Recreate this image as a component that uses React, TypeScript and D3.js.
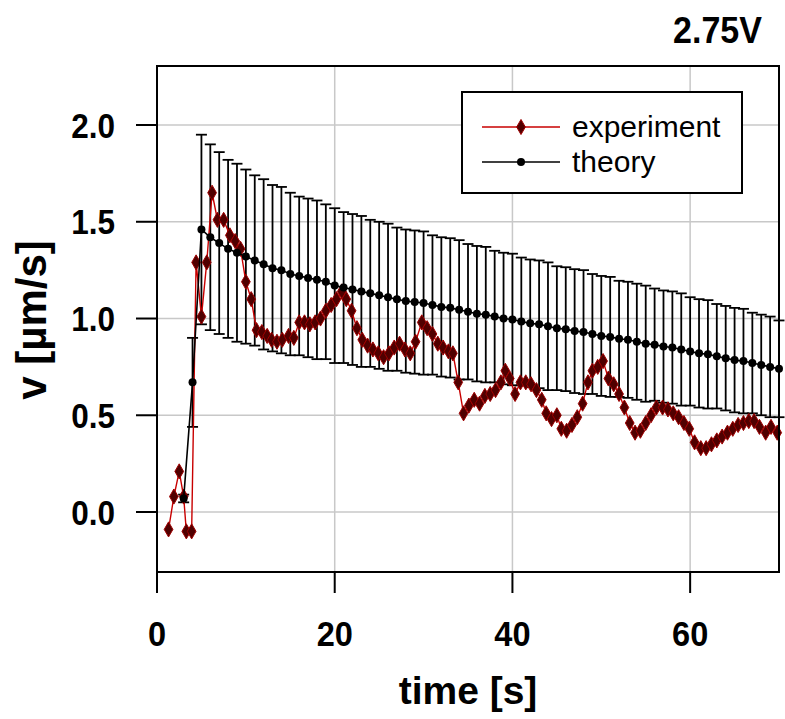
import React from 'react';
import * as d3 from 'd3';

// ---------- data ----------
const expT = [1.3, 1.9, 2.5, 3.0, 3.3, 3.9, 4.4, 5.0, 5.6, 6.2, 6.8, 7.5, 8.2, 8.8, 9.4, 10.0, 10.6, 11.2, 11.8, 12.4, 12.9, 13.5, 14.1, 14.8, 15.4, 16.0, 16.6, 17.2, 17.8, 18.4, 19.0, 19.6, 20.2, 20.8, 21.3, 21.9, 22.5, 23.1, 23.7, 24.3, 24.9, 25.5, 26.1, 26.7, 27.3, 27.9, 28.5, 29.1, 29.8, 30.4, 31.0, 31.6, 32.2, 32.8, 33.3, 33.9, 34.5, 35.1, 35.7, 36.3, 36.9, 37.5, 38.1, 38.7, 39.2, 39.7, 40.3, 40.9, 41.5, 42.1, 42.7, 43.3, 43.8, 44.4, 45.0, 45.5, 46.1, 46.7, 47.3, 47.9, 48.5, 49.0, 49.6, 50.2, 50.8, 51.4, 52.0, 52.6, 53.2, 53.8, 54.4, 55.0, 55.6, 56.2, 56.9, 57.5, 58.1, 58.7, 59.3, 59.9, 60.5, 61.2, 61.8, 62.4, 63.0, 63.6, 64.2, 64.8, 65.4, 66.0, 66.6, 67.2, 67.8, 68.5, 69.1, 69.8];
const expV = [-0.09, 0.08, 0.21, 0.08, -0.10, -0.10, 1.29, 1.01, 1.29, 1.65, 1.51, 1.51, 1.43, 1.40, 1.36, 1.19, 1.10, 0.94, 0.93, 0.91, 0.89, 0.88, 0.89, 0.91, 0.90, 0.98, 0.98, 0.97, 0.98, 1.00, 1.04, 1.07, 1.10, 1.14, 1.10, 1.04, 0.95, 0.89, 0.86, 0.84, 0.82, 0.80, 0.82, 0.85, 0.87, 0.84, 0.82, 0.88, 0.98, 0.95, 0.92, 0.87, 0.85, 0.83, 0.82, 0.67, 0.51, 0.55, 0.58, 0.56, 0.60, 0.61, 0.63, 0.67, 0.73, 0.69, 0.61, 0.67, 0.67, 0.66, 0.63, 0.58, 0.51, 0.48, 0.50, 0.43, 0.42, 0.45, 0.49, 0.56, 0.67, 0.73, 0.75, 0.78, 0.69, 0.66, 0.61, 0.54, 0.46, 0.41, 0.42, 0.46, 0.50, 0.54, 0.54, 0.53, 0.51, 0.49, 0.46, 0.43, 0.36, 0.33, 0.33, 0.35, 0.37, 0.39, 0.41, 0.43, 0.45, 0.46, 0.47, 0.47, 0.44, 0.41, 0.44, 0.41];

const theoryT = [3, 4, 5, 6, 7, 8, 9, 10, 11, 12, 13, 14, 15, 16, 17, 18, 19, 20, 21, 22, 23, 24, 25, 26, 27, 28, 29, 30, 31, 32, 33, 34, 35, 36, 37, 38, 39, 40, 41, 42, 43, 44, 45, 46, 47, 48, 49, 50, 51, 52, 53, 54, 55, 56, 57, 58, 59, 60, 61, 62, 63, 64, 65, 66, 67, 68, 69, 70];
const theoryV = [0.07, 0.67, 1.46, 1.42, 1.39, 1.36, 1.34, 1.32, 1.30, 1.28, 1.26, 1.25, 1.23, 1.22, 1.21, 1.20, 1.19, 1.17, 1.16, 1.15, 1.14, 1.13, 1.12, 1.11, 1.10, 1.09, 1.085, 1.08, 1.07, 1.06, 1.055, 1.045, 1.035, 1.025, 1.02, 1.01, 1.00, 0.995, 0.985, 0.975, 0.97, 0.96, 0.95, 0.945, 0.935, 0.93, 0.92, 0.91, 0.905, 0.895, 0.89, 0.88, 0.87, 0.865, 0.855, 0.85, 0.84, 0.83, 0.82, 0.815, 0.805, 0.795, 0.785, 0.78, 0.77, 0.76, 0.75, 0.74];
const theoryErr = [0.02, 0.23, 0.49, 0.48, 0.47, 0.46, 0.46, 0.45, 0.44, 0.44, 0.43, 0.43, 0.42, 0.41, 0.41, 0.41, 0.40, 0.40, 0.39, 0.39, 0.39, 0.38, 0.38, 0.38, 0.37, 0.37, 0.37, 0.37, 0.36, 0.36, 0.36, 0.36, 0.35, 0.35, 0.35, 0.34, 0.34, 0.34, 0.33, 0.33, 0.33, 0.33, 0.32, 0.32, 0.32, 0.32, 0.31, 0.31, 0.31, 0.30, 0.30, 0.30, 0.30, 0.29, 0.29, 0.29, 0.29, 0.28, 0.28, 0.28, 0.27, 0.27, 0.27, 0.27, 0.26, 0.26, 0.26, 0.25];

const xTicks = [0, 20, 40, 60];
const yTicks = [0, 0.5, 1.0, 1.5, 2.0];
const seriesNames = ['experiment', 'theory'];
const titleText = '2.75V';
const xLabel = 'time [s]';
const yLabel = 'v [\u00b5m/s]';

const FONT = '"Liberation Sans", Arial, sans-serif';

function CText({ x, y, size, weight = 'bold', anchor = 'middle', rotate = 0, sx = 1, children }: any) {
  return (
    <text
      transform={`translate(${x},${y}) rotate(${rotate}) scale(${sx},1)`}
      fontFamily={FONT}
      fontSize={size}
      fontWeight={weight}
      textAnchor={anchor}
      fill="#000"
    >
      {children}
    </text>
  );
}

export default function App() {
  const W = 785, H = 719;
  const left = 157, right = 779, top = 66, bottom = 572;
  const x = d3.scaleLinear().domain([0, 70]).range([left, right]);
  const y = d3.scaleLinear().domain([-0.31, 2.305]).range([bottom, top]);

  const exp = expT.map((t, i) => [t, expV[i]] as [number, number]);
  const th = theoryT.map((t, i) => [t, theoryV[i], theoryErr[i]] as [number, number, number]);

  const line = d3.line<[number, number]>().x(d => x(d[0])).y(d => y(d[1]));
  const thLine = d3.line<[number, number, number]>().x(d => x(d[0])).y(d => y(d[1]));
  const diamond = d3.symbol().type(d3.symbolDiamond).size(66)() as string;
  const capW = 5.5;

  const redLine = '#c80000';
  const diaFill = '#500000';
  const diaStroke = '#a00000';

  return (
    <svg width={W} height={H} style={{ position: 'absolute', left: 0, top: 0, background: '#fff' }}>
      <rect x={0} y={0} width={W} height={H} fill="#fff" />
      {/* grid */}
      {xTicks.filter(t => t > 0).map(t => (
        <line key={'gx' + t} x1={x(t)} x2={x(t)} y1={top} y2={bottom} stroke="#c8c8c8" strokeWidth={1.5} />
      ))}
      {yTicks.map(t => (
        <line key={'gy' + t} x1={left} x2={right} y1={y(t)} y2={y(t)} stroke="#c8c8c8" strokeWidth={1.5} />
      ))}

      {/* error bars */}
      {th.map(d => (
        <g key={'e' + d[0]} stroke="#000" strokeWidth={1.8}>
          <line x1={x(d[0])} x2={x(d[0])} y1={y(d[1] - d[2])} y2={y(d[1] + d[2])} />
          <line x1={x(d[0]) - capW} x2={x(d[0]) + capW} y1={y(d[1] + d[2])} y2={y(d[1] + d[2])} />
          <line x1={x(d[0]) - capW} x2={x(d[0]) + capW} y1={y(d[1] - d[2])} y2={y(d[1] - d[2])} />
        </g>
      ))}

      {/* experiment */}
      <path d={line(exp) as string} fill="none" stroke={redLine} strokeWidth={1.4} />
      {exp.map((d, i) => (
        <path key={'d' + i} d={diamond} transform={`translate(${x(d[0])},${y(d[1])})`} fill={diaFill} stroke={diaStroke} strokeWidth={1} />
      ))}

      {/* theory */}
      <path d={thLine(th) as string} fill="none" stroke="#000" strokeWidth={1.6} />
      {th.map(d => (
        <circle key={'c' + d[0]} cx={x(d[0])} cy={y(d[1])} r={4} fill="#000" />
      ))}

      {/* box */}
      <rect x={left} y={top} width={right - left} height={bottom - top} fill="none" stroke="#000" strokeWidth={2} />

      {/* x ticks */}
      {xTicks.map(t => (
        <g key={'xt' + t}>
          <line x1={x(t)} x2={x(t)} y1={bottom} y2={bottom + 21} stroke="#000" strokeWidth={2} />
          <CText x={x(t)} y={646} size={35} sx={0.93}>{String(t)}</CText>
        </g>
      ))}
      {/* y ticks */}
      {yTicks.map(t => (
        <g key={'yt' + t}>
          <line x1={left - 21} x2={left} y1={y(t)} y2={y(t)} stroke="#000" strokeWidth={2} />
          <CText x={115} y={y(t) + 12.5} size={35} sx={0.9} anchor="end">{t.toFixed(1)}</CText>
        </g>
      ))}

      {/* labels */}
      <CText x={468} y={704} size={39}>{xLabel}</CText>
      <CText x={46} y={320} size={42} rotate={-90}>{yLabel}</CText>
      <CText x={762} y={43} size={37} sx={0.92} anchor="end">{titleText}</CText>

      {/* legend */}
      <rect x={462} y={92} width={280} height={101} fill="#fff" stroke="#000" strokeWidth={2} />
      <line x1={482} x2={560} y1={127} y2={127} stroke={redLine} strokeWidth={1.4} />
      <path d={diamond} transform={`translate(521,127)`} fill={diaFill} stroke={diaStroke} strokeWidth={1} />
      <CText x={572} y={137} size={30} weight="normal" anchor="start">{seriesNames[0]}</CText>
      <line x1={482} x2={560} y1={162} y2={162} stroke="#000" strokeWidth={1.6} />
      <circle cx={521} cy={162} r={4} fill="#000" />
      <CText x={572} y={172} size={30} weight="normal" anchor="start">{seriesNames[1]}</CText>
    </svg>
  );
}
